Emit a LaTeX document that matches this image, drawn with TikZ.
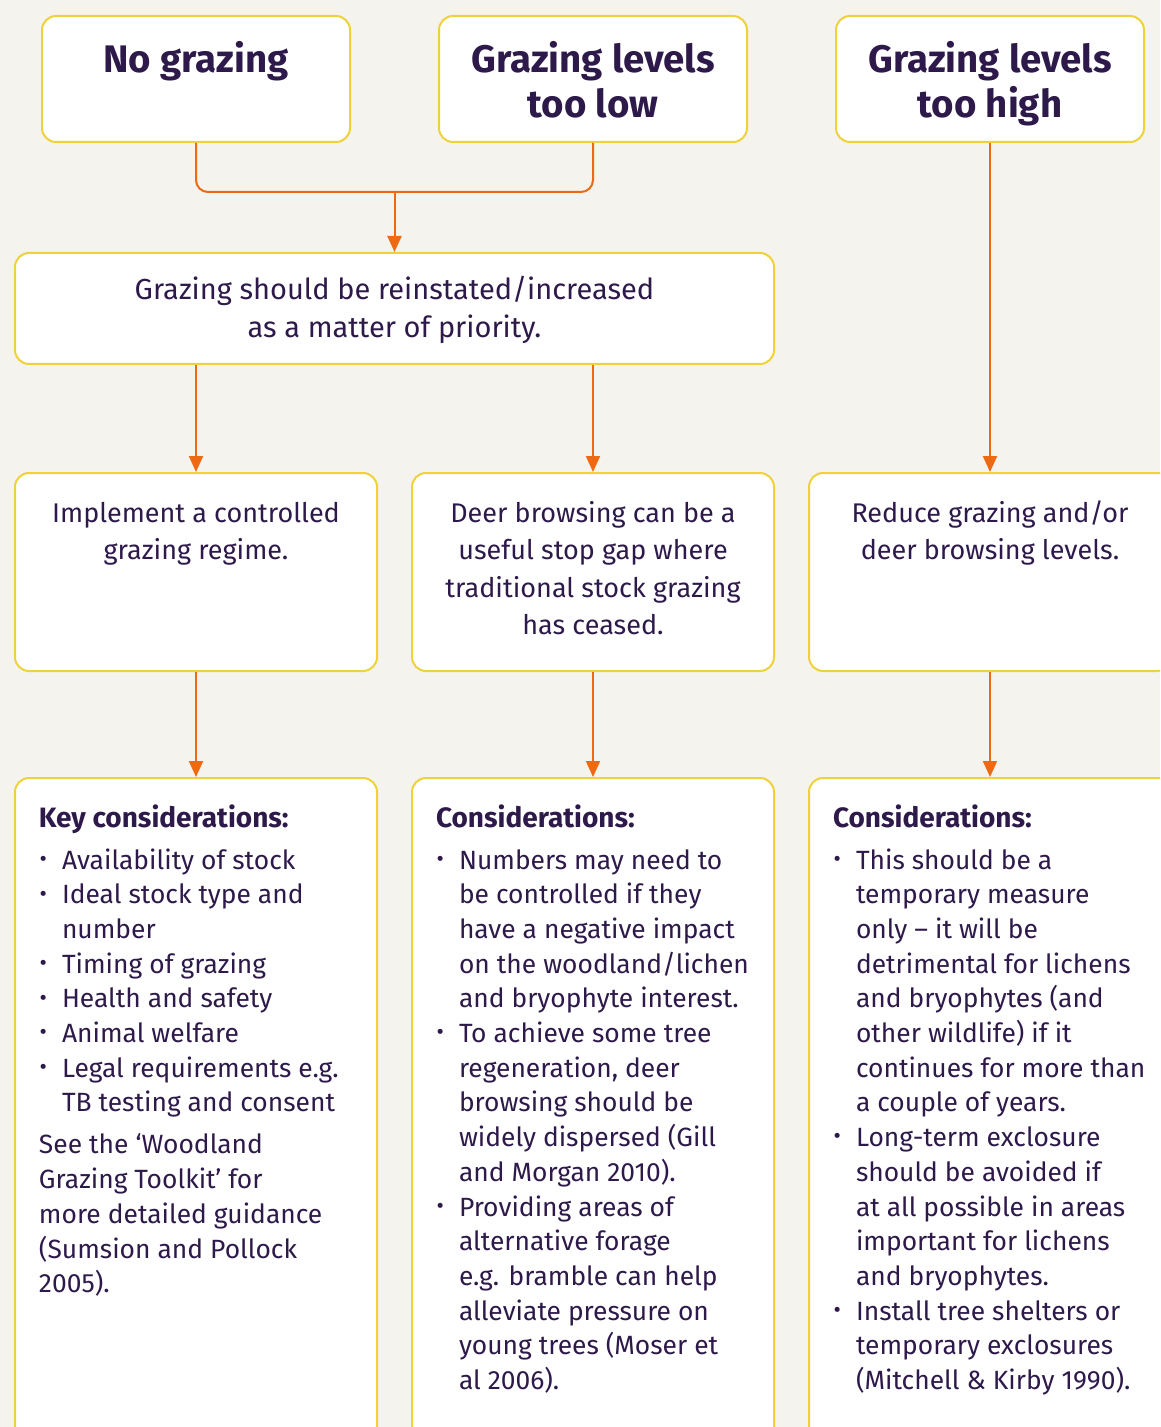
\documentclass[tikz,border=0pt]{standalone}
\usepackage{fontspec}
\setmainfont{Fira Sans}
\usepackage{enumitem}
\usetikzlibrary{positioning,arrows.meta}
\definecolor{gpurple}{HTML}{2E1A4A}
\definecolor{gyellow}{HTML}{EFD23A}
\definecolor{gorange}{HTML}{EE6A12}
\definecolor{gbg}{HTML}{F4F3EE}
\setlist[itemize]{label={\raisebox{.1em}{\scalebox{.85}{\textbullet}}},leftmargin=11.5pt,labelsep=7.5pt,
  itemsep=0pt,parsep=0pt,topsep=3.65pt,partopsep=0pt}
\newcommand{\boxtext}[4]{\parbox[c][#2][t]{#1}{\centering\rule{0pt}{#3}#4\par}}
\newcommand{\listbox}[1]{\parbox[c][340pt][t]{181pt}{\rule{0pt}{24.5pt}\hspace*{12pt}%
  \begin{minipage}[t]{166pt}\raggedright #1\end{minipage}}}
\newcommand{\cnhead}[1]{{\bfseries\fontsize{14}{17.35}\selectfont #1}\par}

\begin{document}
\begin{tikzpicture}[x=0.5pt,y=-0.5pt,
  hd/.style={rectangle,rounded corners=7pt,draw=gyellow,fill=white,line width=1pt,inner sep=0pt,
    anchor=north west,text=gpurple,font=\bfseries\fontsize{19.2}{22.5}\selectfont},
  md/.style={rectangle,rounded corners=7pt,draw=gyellow,fill=white,line width=1pt,inner sep=0pt,
    anchor=north west,text=gpurple,font=\fontsize{13.5}{18.75}\selectfont},
  cn/.style={rectangle,rounded corners=7pt,draw=gyellow,fill=white,line width=1pt,inner sep=0pt,
    anchor=north west,text=gpurple,font=\fontsize{13.2}{17.35}\selectfont},
  ln/.style={line width=1pt,gorange,rounded corners=6pt},
  ar/.style={-{Triangle[length=8pt,width=7pt]},line width=1pt,gorange}]
  \fill[gbg] (0,0) rectangle (1160,1427);
  \useasboundingbox (0,0) rectangle (1160,1427);
  \clip (0,0) rectangle (1160,1427);
  % top row
  \node[hd] (nog) at (41,15) {\boxtext{154pt}{63pt}{28.5pt}{No grazing}};
  \node[hd] (low) at (438,15) {\boxtext{154pt}{63pt}{28.5pt}{Grazing levels\\too low}};
  \node[hd] (hig) at (835,15) {\boxtext{154pt}{63pt}{28.5pt}{Grazing levels\\too high}};
  \node[md,font=\fontsize{14.5}{18.9}\selectfont] (rei) at (14,252) {\boxtext{379.5pt}{55.5pt}{23.5pt}{Grazing should be reinstated/increased\\as a matter of priority.}};
  % middle row
  \node[md] (imp) at (14,472) {\boxtext{181pt}{99pt}{24.5pt}{Implement a controlled\\grazing regime.}};
  \node[md] (dee) at (411,472) {\boxtext{181pt}{99pt}{24.5pt}{Deer browsing can be a\\useful stop gap where\\traditional stock grazing\\has ceased.}};
  \node[md] (red) at (808,472) {\boxtext{181pt}{99pt}{24.5pt}{Reduce grazing and/or\\deer browsing levels.}};
  % considerations
  \node[cn] (kc) at (14,777) {\listbox{\cnhead{Key considerations:}
    \begin{itemize}
    \item Availability of stock
    \item Ideal stock type and\\number
    \item Timing of grazing
    \item Health and safety
    \item Animal welfare
    \item Legal requirements e.g.\\TB testing and consent
    \end{itemize}
    See the ‘Woodland\\Grazing Toolkit’ for\\more detailed guidance\\(Sumsion and Pollock\\2005).}};
  \node[cn] (dc) at (411,777) {\listbox{\cnhead{Considerations:}
    \begin{itemize}
    \item Numbers may need to\\be controlled if they\\have a negative impact\\on the woodland/lichen\\and bryophyte interest.
    \item To achieve some tree\\regeneration, deer\\browsing should be\\widely dispersed (Gill\\and Morgan 2010).
    \item Providing areas of\\alternative forage\\e.g. bramble can help\\alleviate pressure on\\young trees (Moser et\\al 2006).
    \end{itemize}}};
  \node[cn] (rc) at (808,777) {\listbox{\cnhead{Considerations:}
    \begin{itemize}
    \item This should be a\\temporary measure\\only -- it will be\\detrimental for lichens\\and bryophytes (and\\other wildlife) if it\\continues for more than\\a couple of years.
    \item Long-term exclosure\\should be avoided if\\at all possible in areas\\important for lichens\\and bryophytes.
    \item Install tree shelters or\\temporary exclosures\\(Mitchell \& Kirby 1990).
    \end{itemize}}};
  % connectors
  \path (rei.north) ++(0,-60) coordinate (jn);
  \draw[ln] (nog.south) |- (jn) -| (low.south);
  \draw[ar] (jn) -- (rei.north);
  \draw[ar] (rei.south -| imp.north) -- (imp.north);
  \draw[ar] (rei.south -| dee.north) -- (dee.north);
  \draw[ar] (hig.south) -- (red.north);
  \draw[ar] (imp.south) -- (kc.north);
  \draw[ar] (dee.south) -- (dc.north);
  \draw[ar] (red.south) -- (rc.north);
\end{tikzpicture}
\end{document}
